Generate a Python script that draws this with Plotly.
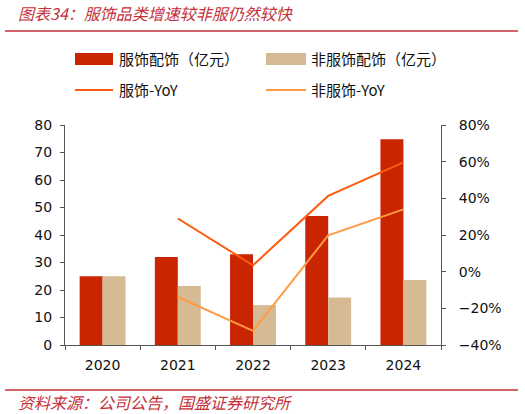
import plotly.graph_objects as go

# data
years = ["2020", "2021", "2022", "2023", "2024"]
apparel_sales = [25.0, 32.0, 33.0, 46.9, 74.8]          # 亿元
non_apparel_sales = [25.0, 21.5, 14.5, 17.3, 23.6]      # 亿元
apparel_yoy = [None, 29.0, 3.5, 41.3, 59.6]             # %
non_apparel_yoy = [None, -13.8, -32.3, 19.8, 34.0]      # %

names = ["服饰配饰（亿元）", "非服饰配饰（亿元）", "服饰-YoY", "非服饰-YoY"]
colors = ["#C82500", "#D5BA94", "#FF5A0F", "#FF9A45"]

title_text = "图表34：服饰品类增速较非服仍然较快"
source_text = "资料来源：公司公告，国盛证券研究所"

W, H = 525, 414
L, R, T, B = 65, 441, 125, 345   # plot area in page pixels


def px(x):
    return (x - L) / (R - L)


def py(y):
    return (B - y) / (B - T)


fig = go.Figure()

fig.add_trace(go.Bar(x=years, y=apparel_sales, name=names[0], marker_color=colors[0], marker_line_width=0))
fig.add_trace(go.Bar(x=years, y=non_apparel_sales, name=names[1], marker_color=colors[1], marker_line_width=0))
fig.add_trace(go.Scatter(x=years, y=apparel_yoy, name=names[2], mode="lines",
                         line=dict(color=colors[2], width=2), yaxis="y2"))
fig.add_trace(go.Scatter(x=years, y=non_apparel_yoy, name=names[3], mode="lines",
                         line=dict(color=colors[3], width=2), yaxis="y2"))

tick_font = dict(family="DejaVu Sans", size=14, color="#111111")
red_text = "#C4303A"

shapes = [
    # rule under the title and above the source
    dict(type="line", xref="paper", yref="paper", x0=px(5), x1=px(518), y0=py(31), y1=py(31),
         line=dict(color=red_text, width=1.5)),
    dict(type="line", xref="paper", yref="paper", x0=px(5), x1=px(518), y0=py(390), y1=py(390),
         line=dict(color=red_text, width=1.5)),
    # legend swatches
    dict(type="rect", xref="paper", yref="paper", x0=px(75), x1=px(113), y0=py(65), y1=py(53),
         fillcolor=colors[0], line_width=0),
    dict(type="rect", xref="paper", yref="paper", x0=px(266), x1=px(306), y0=py(65), y1=py(53),
         fillcolor=colors[1], line_width=0),
    dict(type="line", xref="paper", yref="paper", x0=px(75), x1=px(113), y0=py(90), y1=py(90),
         line=dict(color=colors[2], width=2)),
    dict(type="line", xref="paper", yref="paper", x0=px(266), x1=px(306), y0=py(90), y1=py(90),
         line=dict(color=colors[3], width=2)),
]

leg_font = dict(family="Noto Sans CJK SC, DejaVu Sans", size=15, color="#111111")
note_font = dict(family="Noto Sans CJK SC", size=16, color=red_text, style="italic")
annotations = [
    dict(text=title_text, xref="paper", yref="paper", x=px(16), y=py(13), xanchor="left", yanchor="middle",
         showarrow=False, font=note_font),
    dict(text=source_text, xref="paper", yref="paper", x=px(16), y=py(402), xanchor="left", yanchor="middle",
         showarrow=False, font=note_font),
    dict(text=names[0], xref="paper", yref="paper", x=px(117), y=py(59), xanchor="left", yanchor="middle",
         showarrow=False, font=leg_font),
    dict(text=names[1], xref="paper", yref="paper", x=px(309), y=py(59), xanchor="left", yanchor="middle",
         showarrow=False, font=leg_font),
    dict(text=names[2], xref="paper", yref="paper", x=px(117), y=py(90), xanchor="left", yanchor="middle",
         showarrow=False, font=leg_font),
    dict(text=names[3], xref="paper", yref="paper", x=px(309), y=py(90), xanchor="left", yanchor="middle",
         showarrow=False, font=leg_font),
]

fig.update_layout(
    width=W, height=H,
    margin=dict(l=L, r=W - R, t=T, b=H - B, pad=0),
    paper_bgcolor="white", plot_bgcolor="white",
    showlegend=False,
    barmode="group", bargap=0.39, bargroupgap=0,
    xaxis=dict(showline=True, linecolor="#555555", linewidth=1, ticks="outside", ticklen=4,
               tickcolor="#555555", tickson="boundaries", tickfont=tick_font, showgrid=False,
               ticklabelstandoff=7),
    yaxis=dict(range=[0, 80], dtick=10, showline=True, linecolor="#555555", linewidth=1,
               ticks="outside", ticklen=4, tickcolor="#555555", tickfont=tick_font, showgrid=False,
               zeroline=False, ticklabelstandoff=5),
    yaxis2=dict(range=[-40, 80], dtick=20, overlaying="y", side="right", ticksuffix="%",
                showline=True, linecolor="#555555", linewidth=1, ticks="outside", ticklen=4,
                tickcolor="#555555", tickfont=tick_font, showgrid=False, zeroline=False,
                ticklabelstandoff=10),
    shapes=shapes,
    annotations=annotations,
)

# drop the default 8px page margin so the figure fills the window exactly
fig.write_html("out.html", config={"displayModeBar": False},
               post_script="document.body.style.margin = '0';")
